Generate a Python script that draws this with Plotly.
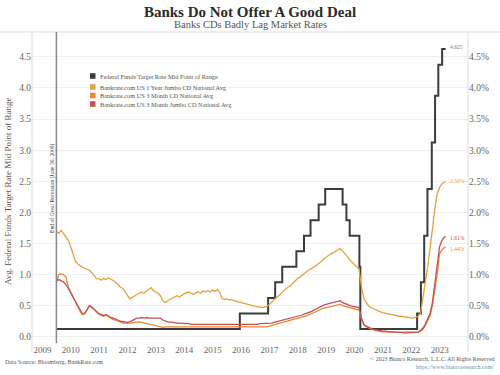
import pandas as pd
import plotly.graph_objects as go

# ---------------- data ----------------
fed_dates = ["2009-06-30", "2015-12-17", "2016-12-15", "2017-03-16", "2017-06-15", "2017-12-14",
             "2018-03-22", "2018-06-14", "2018-09-27", "2018-12-20", "2019-08-01", "2019-09-19",
             "2019-10-31", "2020-03-04", "2020-03-16", "2022-03-17", "2022-05-05", "2022-06-16",
             "2022-07-28", "2022-09-22", "2022-11-03", "2022-12-15", "2023-02-02", "2023-03-20"]
fed_values = [0.125, 0.375, 0.625, 0.875, 1.125, 1.375,
              1.625, 1.875, 2.125, 2.375, 2.125, 1.875,
              1.625, 1.125, 0.125, 0.375, 0.875, 1.625,
              2.375, 3.125, 3.875, 4.375, 4.625, 4.625]

cd_dates = [d.strftime("%Y-%m-%d") for d in pd.date_range("2009-06-30", "2023-02-28", freq="ME")] + ["2023-03-20"]

jumbo_1y = [
    1.70, 1.66, 1.71, 1.66, 1.62, 1.55, 1.45,                              # 2009 Jun-Dec
    1.32, 1.22, 1.17, 1.14, 1.12, 1.10, 1.08, 1.07, 1.03, 0.97, 0.93, 0.93,  # 2010
    0.91, 0.94, 0.92, 0.95, 0.93, 0.90, 0.88, 0.84, 0.80, 0.78, 0.72, 0.66,  # 2011
    0.61, 0.63, 0.66, 0.68, 0.70, 0.72, 0.70, 0.74, 0.76, 0.79, 0.74, 0.72,  # 2012
    0.70, 0.66, 0.58, 0.55, 0.58, 0.60, 0.62, 0.64, 0.66, 0.64, 0.67, 0.69,  # 2013
    0.71, 0.72, 0.70, 0.68, 0.71, 0.72, 0.70, 0.74, 0.72, 0.74, 0.72, 0.75,  # 2014
    0.73, 0.76, 0.72, 0.62, 0.60, 0.61, 0.59, 0.60, 0.58, 0.57, 0.55, 0.54,  # 2015
    0.53, 0.52, 0.51, 0.50, 0.50, 0.49, 0.48, 0.48, 0.47, 0.48, 0.49, 0.52,  # 2016
    0.56, 0.60, 0.63, 0.66, 0.70, 0.74, 0.77, 0.80, 0.82, 0.86, 0.90, 0.94,  # 2017
    0.96, 0.99, 1.02, 1.04, 1.08, 1.10, 1.12, 1.15, 1.18, 1.22, 1.25, 1.28,  # 2018
    1.31, 1.33, 1.35, 1.37, 1.40, 1.42, 1.38, 1.34, 1.29, 1.24, 1.20, 1.16,  # 2019
    1.12, 1.08, 0.80, 0.62, 0.55, 0.50, 0.47, 0.45, 0.43, 0.42, 0.40, 0.39,  # 2020
    0.38, 0.37, 0.36, 0.36, 0.35, 0.34, 0.33, 0.33, 0.32, 0.31, 0.30, 0.30,  # 2021
    0.30, 0.31, 0.33, 0.38, 0.62, 0.88, 1.12, 1.42, 1.75, 2.05, 2.30, 2.40,  # 2022
    2.46, 2.48, 2.50,                                                      # 2023
]

cd_3m = [
    0.88, 1.00, 1.01, 1.00, 0.96, 0.80, 0.72,
    0.64, 0.56, 0.50, 0.41, 0.36, 0.37, 0.43, 0.50, 0.48, 0.44, 0.40, 0.36,
    0.34, 0.33, 0.35, 0.32, 0.30, 0.28, 0.27, 0.25, 0.24, 0.22, 0.22, 0.21,
    0.21, 0.22, 0.23, 0.24, 0.24, 0.23, 0.22, 0.22, 0.21, 0.20, 0.19, 0.18,
    0.17, 0.16, 0.15, 0.16, 0.16, 0.16, 0.16, 0.16, 0.16, 0.16, 0.16, 0.15,
    0.15, 0.15, 0.16, 0.15, 0.15, 0.15, 0.16, 0.15, 0.15, 0.15, 0.15, 0.15,
    0.15, 0.15, 0.15, 0.15, 0.16, 0.15, 0.15, 0.15, 0.15, 0.15, 0.15, 0.15,
    0.15, 0.15, 0.15, 0.15, 0.15, 0.15, 0.15, 0.15, 0.16, 0.16, 0.16, 0.17,
    0.18, 0.19, 0.20, 0.21, 0.22, 0.23, 0.24, 0.25, 0.26, 0.27, 0.28, 0.29,
    0.30, 0.31, 0.33, 0.34, 0.36, 0.37, 0.39, 0.41, 0.43, 0.45, 0.46, 0.47,
    0.48, 0.49, 0.49, 0.50, 0.51, 0.52, 0.50, 0.49, 0.47, 0.46, 0.45, 0.44,
    0.44, 0.43, 0.28, 0.19, 0.16, 0.14, 0.13, 0.11, 0.10, 0.09, 0.09, 0.08,
    0.08, 0.08, 0.07, 0.07, 0.07, 0.07, 0.07, 0.07, 0.06, 0.06, 0.06, 0.06,
    0.06, 0.06, 0.07, 0.09, 0.12, 0.18, 0.25, 0.34, 0.50, 0.75, 1.00, 1.33,
    1.40, 1.43, 1.44,
]

jumbo_3m = [
    0.90, 0.92, 0.90, 0.88, 0.84, 0.77, 0.72,
    0.64, 0.56, 0.50, 0.42, 0.37, 0.38, 0.44, 0.50, 0.47, 0.44, 0.40, 0.37,
    0.36, 0.34, 0.36, 0.33, 0.31, 0.30, 0.29, 0.27, 0.25, 0.24, 0.24, 0.23,
    0.24, 0.26, 0.28, 0.30, 0.30, 0.31, 0.30, 0.31, 0.30, 0.30, 0.30, 0.29,
    0.29, 0.30, 0.27, 0.25, 0.24, 0.24, 0.23, 0.23, 0.22, 0.22, 0.22, 0.21,
    0.21, 0.21, 0.20, 0.20, 0.20, 0.20, 0.20, 0.19, 0.19, 0.19, 0.19, 0.19,
    0.19, 0.19, 0.19, 0.19, 0.19, 0.19, 0.19, 0.19, 0.19, 0.19, 0.19, 0.20,
    0.20, 0.20, 0.20, 0.20, 0.20, 0.20, 0.20, 0.21, 0.21, 0.21, 0.21, 0.22,
    0.22, 0.23, 0.24, 0.25, 0.26, 0.27, 0.28, 0.29, 0.30, 0.31, 0.32, 0.33,
    0.34, 0.35, 0.37, 0.38, 0.40, 0.41, 0.43, 0.45, 0.47, 0.50, 0.51, 0.52,
    0.53, 0.54, 0.54, 0.55, 0.56, 0.58, 0.55, 0.54, 0.52, 0.50, 0.49, 0.48,
    0.48, 0.47, 0.30, 0.20, 0.17, 0.15, 0.14, 0.12, 0.11, 0.10, 0.10, 0.09,
    0.09, 0.08, 0.08, 0.08, 0.07, 0.07, 0.07, 0.07, 0.07, 0.07, 0.07, 0.07,
    0.07, 0.07, 0.08, 0.10, 0.14, 0.20, 0.28, 0.38, 0.55, 0.85, 1.15, 1.45,
    1.55, 1.60, 1.61,
]

series_names = ["Federal Funds Target Rate Mid Point of Range",
                "Bankrate.com US 1 Year Jumbo CD National Avg",
                "Bankrate.com US 3 Month CD National Avg",
                "Bankrate.com US 3 Month Jumbo CD National Avg"]
end_labels = ["4.625", "2.50%", "1.44%", "1.61%"]
year_ticks = list(range(2009, 2024))
y_ticks = [0.0, 0.5, 1.0, 1.5, 2.0, 2.5, 3.0, 3.5, 4.0, 4.5]
recession_date = "2009-06-30"

# ---------------- style ----------------
C_FED = "#3c3c3c"
C_1Y = "#E3A23F"
C_3M = "#EC8633"
C_3MJ = "#C64F57"
FONT = "Liberation Serif"
GRAY = "#666666"

W, H = 500, 375
ML, MR, MT, MB = 32, 32, 32, 32
PW, PH = W - ML - MR, H - MT - MB


def px_x(px):
    return (px - ML) / PW


def px_y(py):
    return (H - MB - py) / PH


fig = go.Figure()
fig.add_trace(go.Scatter(x=fed_dates, y=fed_values, mode="lines", line_shape="hv",
                         line=dict(color=C_FED, width=2), name=series_names[0], yaxis="y"))
fig.add_trace(go.Scatter(x=cd_dates, y=jumbo_1y, mode="lines",
                         line=dict(color=C_1Y, width=1.3), name=series_names[1], yaxis="y2"))
fig.add_trace(go.Scatter(x=cd_dates, y=cd_3m, mode="lines",
                         line=dict(color=C_3M, width=1.3), name=series_names[2], yaxis="y2"))
fig.add_trace(go.Scatter(x=cd_dates, y=jumbo_3m, mode="lines",
                         line=dict(color=C_3MJ, width=1.3), name=series_names[3], yaxis="y2"))

yr = [-0.1, 4.9]
fig.update_layout(
    width=W, height=H,
    margin=dict(l=ML, r=MR, t=MT, b=MB, autoexpand=False),
    paper_bgcolor="white", plot_bgcolor="white",
    showlegend=False,
    font=dict(family=FONT, color=GRAY),
    title=dict(text="<b>Banks Do Not Offer A Good Deal</b>", x=0.5, xanchor="center",
               y=(H - 12) / H, yanchor="middle", yref="container",
               font=dict(family=FONT, size=15, color="#2b2b2b")),
    xaxis=dict(type="date", range=["2008-08-20", "2024-01-01"], automargin=False,
               tickvals=[f"{y}-01-01" for y in year_ticks], ticktext=[str(y) for y in year_ticks],
               showgrid=False, zeroline=False, showline=False, ticks="",
               tickfont=dict(family=FONT, size=9, color=GRAY)),
    yaxis=dict(range=yr, tickvals=y_ticks, ticktext=[f"{v:.1f}" for v in y_ticks], automargin=False,
               showgrid=True, gridcolor="#f0f0f0", gridwidth=1, zeroline=False, showline=False,
               ticks="", tickfont=dict(family=FONT, size=9.5, color=GRAY)),
    yaxis2=dict(range=yr, tickvals=y_ticks, ticktext=[f"{v:.1f}%" for v in y_ticks], automargin=False,
                overlaying="y", side="right", showgrid=False, zeroline=False, showline=False,
                ticks="", tickfont=dict(family=FONT, size=9.5, color=GRAY)),
)

shapes = []
# frame lines
shapes.append(dict(type="line", xref="paper", yref="paper", x0=px_x(0), x1=px_x(W), y0=1, y1=1,
                   line=dict(color="#dddddd", width=1)))
for xp in (0, 1):
    shapes.append(dict(type="line", xref="paper", yref="paper", x0=xp, x1=xp, y0=px_y(352), y1=1,
                       line=dict(color="#dddddd", width=1)))
# recession line
shapes.append(dict(type="line", xref="x", yref="paper", x0=recession_date, x1=recession_date,
                   y0=0, y1=1, line=dict(color="#8a8a8a", width=1.5)))

# custom legend
leg_colors = [C_FED, C_1Y, C_3M, C_3MJ]
leg_y = [76, 87, 95.5, 104]
annotations = []
for name, col, cy in zip(series_names, leg_colors, leg_y):
    shapes.append(dict(type="rect", xref="paper", yref="paper",
                       x0=px_x(90), x1=px_x(95.5), y0=px_y(cy + 2.8), y1=px_y(cy - 2.8),
                       fillcolor=col, line=dict(width=0)))
    annotations.append(dict(text=name, xref="paper", yref="paper", x=px_x(98), y=px_y(cy),
                            xanchor="left", yanchor="middle", showarrow=False,
                            font=dict(family=FONT, size=6.3, color="#555555")))

# subtitle
annotations.append(dict(text="Banks CDs Badly Lag Market Rates", xref="paper", yref="paper",
                        x=0.5, y=px_y(24), xanchor="center", yanchor="middle", showarrow=False,
                        font=dict(family=FONT, size=10.5, color="#555555")))
# y title
annotations.append(dict(text="Avg. Federal Funds Target Rate Mid Point of Range", xref="paper",
                        yref="paper", x=px_x(8), y=px_y(191), textangle=-90, xanchor="center",
                        yanchor="middle", showarrow=False,
                        font=dict(family=FONT, size=9, color="#555555")))
# recession label
annotations.append(dict(text="End of Great Recession (June 30, 2009)", xref="x", yref="paper",
                        x=recession_date, xshift=-4.5, y=px_y(188), textangle=-90,
                        xanchor="center", yanchor="middle", showarrow=False,
                        font=dict(family=FONT, size=5.6, color="#444444")))
# end labels
end_vals = [fed_values[-1] + 0.03, jumbo_1y[-1], cd_3m[-1] - 0.03, jumbo_3m[-1] - 0.02]
end_cols = ["#777777", C_1Y, C_3M, C_3MJ]
end_axes = ["y", "y2", "y2", "y2"]
for lab, v, col, ax in zip(end_labels, end_vals, end_cols, end_axes):
    annotations.append(dict(text=lab, xref="x", yref=ax, x="2023-03-20", y=v, xshift=2,
                            xanchor="left", yanchor="middle", showarrow=False,
                            font=dict(family=FONT, size=5.5, color=col)))
# footer
annotations.append(dict(text="Data Source: Bloomberg, BankRate.com", xref="paper", yref="paper",
                        x=px_x(3), y=px_y(362), xanchor="left", yanchor="middle", showarrow=False,
                        font=dict(family=FONT, size=6, color="#555555")))
annotations.append(dict(text="© 2023 Bianco Research, L.L.C. All Rights Reserved", xref="paper",
                        yref="paper", x=px_x(496), y=px_y(359), xanchor="right", yanchor="middle",
                        showarrow=False, font=dict(family=FONT, size=5.8, color="#555555")))
annotations.append(dict(text="https://www.biancoresearch.com/", xref="paper",
                        yref="paper", x=px_x(496), y=px_y(366.5), xanchor="right", yanchor="middle",
                        showarrow=False, font=dict(family=FONT, size=5.8, color="#6a8fb5")))

fig.update_layout(shapes=shapes, annotations=annotations)
fig.write_html("out.html", config={"displayModeBar": False},
               post_script="document.body.style.margin='0';document.body.style.overflow='hidden';")
